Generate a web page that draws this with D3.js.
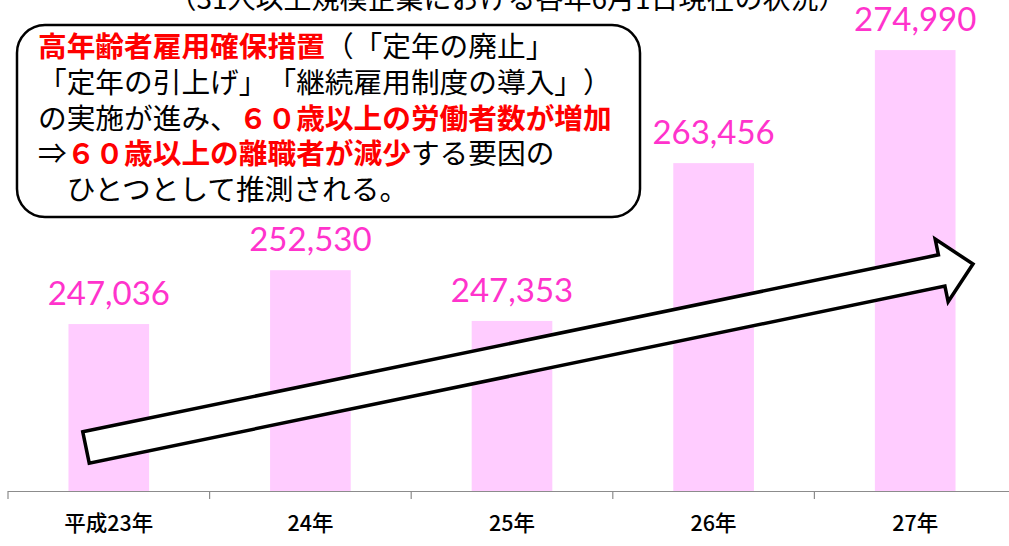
<!DOCTYPE html>
<html>
<head>
<meta charset="utf-8">
<script src="https://cdn.jsdelivr.net/npm/d3@7"></script>
<style>
  body { margin: 0; background: #fff; }
  #chart { width: 1009px; height: 546px; }
  svg text { text-spacing-trim: space-all; }
</style>
</head>
<body>
<div id="chart"></div>
<script>
// data
const years = ["平成23年", "24年", "25年", "26年", "27年"];
const workers = [247036, 252530, 247353, 263456, 274990];

const title = "（31人以上規模企業における各年6月1日現在の状況）";

// callout text: [text, highlighted]
const noteLines = [
    [["高年齢者雇用確保措置", true], ["（「定年の廃止」", false]],
    [["「定年の引上げ」「継続雇用制度の導入」）", false]],
    [["の実施が進み、", false], ["６０歳以上の労働者数が増加", true]],
    [["⇒", false], ["６０歳以上の離職者が減少", true], ["する要因の", false]],
    [["　ひとつとして推測される。", false]]
];

const width = document.querySelector("#chart").clientWidth;
const height = document.querySelector("#chart").clientHeight;
const margin = { top: 1, left: 8, right: -7, bottom: 55 };
const jp = "'Noto Sans CJK JP', sans-serif";

const svg = d3.select("#chart")
    .append("svg")
    .attr("width", width)
    .attr("height", height);

const data = years.map((d, i) => ({ year: d, value: workers[i] }));

const x = d3.scaleBand()
    .domain(years)
    .range([margin.left, width - margin.right])
    .paddingInner(0.6)
    .paddingOuter(0.3);

// same range with no padding, for the category boundaries on the axis
const xCat = d3.scaleBand()
    .domain(years)
    .range([margin.left, width - margin.right])
    .padding(0);

const y = d3.scaleLinear()
    .domain([230000, 280000])
    .range([height - margin.bottom, margin.top]);

const base = y.range()[0];

// bars
svg.append("g")
    .selectAll("rect")
    .data(data)
    .join("rect")
    .attr("x", d => x(d.year))
    .attr("y", d => y(d.value))
    .attr("width", x.bandwidth())
    .attr("height", d => base - y(d.value))
    .attr("fill", "#ffccff");

// value labels
svg.append("g")
    .selectAll("text")
    .data(data)
    .join("text")
    .attr("x", d => x(d.year) + x.bandwidth() / 2)
    .attr("y", d => y(d.value) - 19)
    .attr("text-anchor", "middle")
    .attr("fill", "#ff33cc")
    .style("font", "33px Lato, sans-serif")
    .text(d => d3.format(",")(d.value));

// axis
const axis = svg.append("g").attr("stroke", "#8c8c8c").attr("stroke-width", 1.2);
axis.append("line")
    .attr("x1", xCat.range()[0])
    .attr("x2", xCat.range()[1])
    .attr("y1", base + 0.5)
    .attr("y2", base + 0.5);
axis.selectAll("line.tick")
    .data(years.concat([null]))
    .join("line")
    .attr("class", "tick")
    .attr("x1", d => d === null ? xCat.range()[1] : xCat(d))
    .attr("x2", d => d === null ? xCat.range()[1] : xCat(d))
    .attr("y1", base)
    .attr("y2", base + 8);

svg.append("g")
    .selectAll("text")
    .data(years)
    .join("text")
    .attr("x", d => xCat(d) + xCat.bandwidth() / 2)
    .attr("y", base + 40)
    .attr("text-anchor", "middle")
    .attr("fill", "#000")
    .style("font-family", jp)
    .style("font-size", "21.5px")
    .style("font-weight", 500)
    .text(d => d);

// title (cut off at the top edge)
svg.append("text")
    .attr("x", width / 2 + 3)
    .attr("y", 9)
    .attr("text-anchor", "middle")
    .attr("fill", "#000")
    .style("font-family", jp)
    .style("font-size", "28px")
    .text(title);

// trend arrow: tail centre -> tip
const arrow = { from: [86, 447.5], to: [973, 264], shaft: 16, headLen: 32, head: 32 };
const dx = arrow.to[0] - arrow.from[0], dy = arrow.to[1] - arrow.from[1];
const len = Math.hypot(dx, dy);
const u = [dx / len, dy / len], n = [-u[1], u[0]];
const pt = (along, side) => [
    arrow.from[0] + u[0] * along + n[0] * side,
    arrow.from[1] + u[1] * along + n[1] * side
];
const arrowPts = [
    pt(0, -arrow.shaft),
    pt(len - arrow.headLen, -arrow.shaft),
    pt(len - arrow.headLen, -arrow.head),
    pt(len, 0),
    pt(len - arrow.headLen, arrow.head),
    pt(len - arrow.headLen, arrow.shaft),
    pt(0, arrow.shaft)
];
svg.append("path")
    .attr("d", d3.line()(arrowPts) + "Z")
    .attr("fill", "#fff")
    .attr("stroke", "#000")
    .attr("stroke-width", 3.5)
    .attr("stroke-linejoin", "miter");

// callout box
svg.append("rect")
    .attr("x", 17)
    .attr("y", 25)
    .attr("width", 623)
    .attr("height", 192)
    .attr("rx", 28)
    .attr("fill", "#fff")
    .attr("stroke", "#000")
    .attr("stroke-width", 2.5);

const note = svg.append("text")
    .style("font-family", jp)
    .style("font-size", "28.7px");

noteLines.forEach((line, i) => {
    line.forEach((seg, j) => {
        const t = note.append("tspan")
            .attr("fill", seg[1] ? "#ff0000" : "#000")
            .style("font-weight", seg[1] ? 700 : 400)
            .text(seg[0]);
        if (j === 0) t.attr("x", 38).attr("y", 57 + i * 35.8);
    });
});
</script>
</body>
</html>
